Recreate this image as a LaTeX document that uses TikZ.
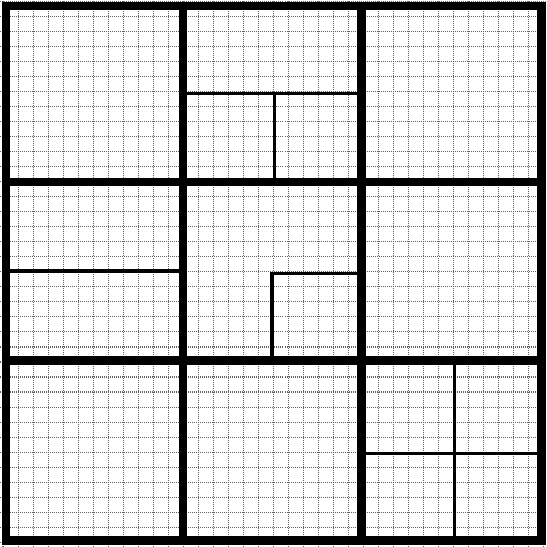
\documentclass[tikz,border=0pt]{standalone}
\begin{document}
\begin{tikzpicture}[x=0.5cm,y=0.5cm]
    \useasboundingbox (-0.2,-0.333) rectangle (36.2,36.133);
    \clip (-0.2,-0.333) rectangle (36.2,36.133);

    % fine dotted grid
    \draw[black!62,line width=0.95pt,dash pattern=on 0.95pt off 0.95pt,step=1]
        (-1,-1) grid (37,37);

    % thin split lines inside some blocks
    \draw[line width=3.6pt] (12,29.9) -- (23.9,29.9);
    \draw[line width=3.6pt] (18.1,29.9) -- (18.1,24);
    \draw[line width=3.6pt] (0.2,18.05) -- (12,18.05);
    \draw[line width=3.6pt] (23.9,17.9) -- (17.95,17.9) -- (17.95,12.1);
    \draw[line width=3.6pt] (30.1,12.1) -- (30.1,0.1);
    \draw[line width=3.6pt] (23.9,5.9) -- (35.9,5.9);

    % thick block borders
    \draw[line width=7.8pt] (0.2,0.1) -- (0.2,35.75);
    \draw[line width=7.8pt] (12,0.1) -- (12,35.75);
    \draw[line width=7.8pt] (23.9,0.1) -- (23.9,35.75);
    \draw[line width=7.8pt] (35.9,0.1) -- (35.9,35.75);
    \draw[line width=7.8pt] (0.2,0.1) -- (35.9,0.1);
    \draw[line width=7.8pt] (0.2,12.1) -- (35.9,12.1);
    \draw[line width=7.8pt] (0.2,24) -- (35.9,24);
    \draw[line width=7.8pt] (0.2,35.75) -- (35.9,35.75);

    % square corners of the outer frame
    \draw[line width=7.8pt,line cap=rect] (0.2,0.1) rectangle (35.9,35.75);

\end{tikzpicture}
\end{document}
